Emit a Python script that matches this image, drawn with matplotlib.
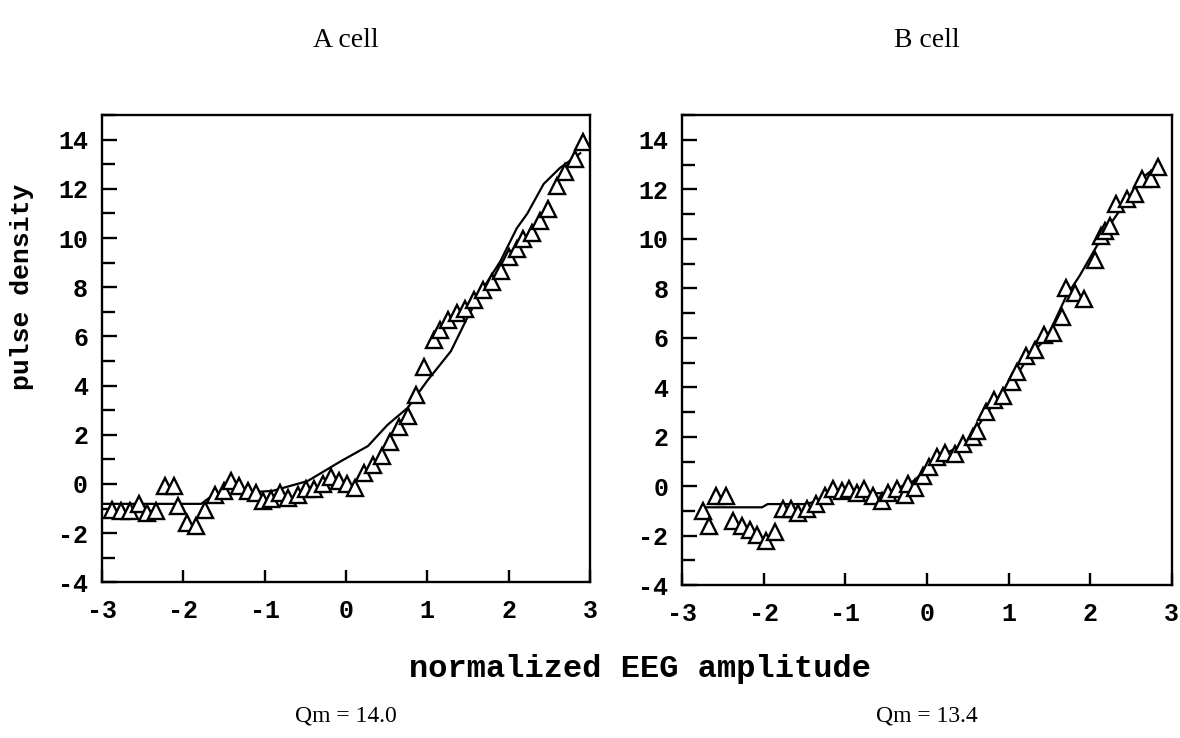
"""Pulse density vs normalized EEG amplitude for A and B cells"""

import numpy as np
import matplotlib
matplotlib.use('Agg')
import matplotlib.pyplot as plt
from matplotlib.ticker import MultipleLocator

# A cell: measured points (triangles)
a_x = [-2.88, -2.77, -2.66, -2.55, -2.45, -2.34, -2.23, -2.12, -2.06, -1.95,
       -1.84, -1.73, -1.61, -1.50, -1.41, -1.31, -1.20, -1.11, -1.02, -0.92,
       -0.81, -0.71, -0.59, -0.49, -0.39, -0.28, -0.18, -0.08, 0.01, 0.11,
       0.22, 0.33, 0.44, 0.54, 0.65, 0.76, 0.86, 0.96, 1.08, 1.16,
       1.26, 1.36, 1.46, 1.57, 1.69, 1.80, 1.90, 2.00, 2.10, 2.18,
       2.29, 2.39, 2.48, 2.59, 2.69, 2.81, 2.91]
a_y = [-1.06, -1.10, -1.10, -0.80, -1.20, -1.10, -0.10, -0.10, -0.90, -1.60,
       -1.70, -1.06, -0.45, -0.30, 0.10, -0.10, -0.30, -0.35, -0.70, -0.60,
       -0.35, -0.57, -0.45, -0.20, -0.20, 0.00, 0.30, 0.10, 0.00, -0.16,
       0.45, 0.77, 1.14, 1.70, 2.30, 2.76, 3.60, 4.75, 5.85, 6.25,
       6.65, 6.95, 7.10, 7.50, 7.90, 8.20, 8.65, 9.25, 9.55, 9.95,
       10.20, 10.70, 11.20, 12.10, 12.70, 13.20, 13.90]

# A cell: fitted curve
a_fit_x = [-3.0, -1.78, -1.65, -1.3, -0.9, -0.47, -0.06, 0.27, 0.51, 0.76,
           1.0, 1.29, 1.49, 1.69, 1.9, 2.1, 2.23, 2.43, 2.63, 2.88]
a_fit_y = [-0.81, -0.81, -0.49, -0.37, -0.28, 0.12, 0.93, 1.54, 2.4, 3.1,
           4.2, 5.4, 6.75, 7.97, 9.07, 10.4, 11.0, 12.2, 12.85, 13.45]

# B cell: measured points
b_x = [-2.74, -2.67, -2.58, -2.46, -2.37, -2.27, -2.17, -2.08, -1.97, -1.86,
       -1.76, -1.66, -1.58, -1.47, -1.36, -1.25, -1.15, -1.04, -0.96, -0.86,
       -0.77, -0.66, -0.55, -0.48, -0.37, -0.27, -0.23, -0.15, -0.05, 0.03,
       0.12, 0.22, 0.34, 0.44, 0.56, 0.62, 0.72, 0.82, 0.93, 1.04,
       1.11, 1.22, 1.33, 1.44, 1.55, 1.66, 1.71, 1.82, 1.93, 2.06,
       2.13, 2.18, 2.24, 2.32, 2.45, 2.55, 2.64, 2.75, 2.83]
b_y = [-1.00, -1.60, -0.40, -0.40, -1.40, -1.60, -1.75, -1.95, -2.20, -1.85,
       -0.93, -0.93, -1.10, -0.93, -0.72, -0.40, -0.12, -0.20, -0.12, -0.28,
       -0.12, -0.40, -0.60, -0.28, -0.12, -0.36, 0.08, -0.08, 0.40, 0.77,
       1.20, 1.33, 1.30, 1.70, 2.00, 2.25, 3.00, 3.50, 3.65, 4.20,
       4.60, 5.25, 5.50, 6.10, 6.20, 6.85, 8.00, 7.80, 7.55, 9.15,
       10.10, 10.30, 10.50, 11.40, 11.60, 11.80, 12.40, 12.40, 12.90]

# B cell: fitted curve
b_fit_x = [-2.75, -2.02, -1.95, -1.47, -1.15, -0.78, -0.5, -0.17, 0.07, 0.24,
           0.49, 0.65, 0.85, 1.05, 1.26, 1.47, 1.71, 1.87, 2.08, 2.28,
           2.48, 2.69, 2.85]
b_fit_y = [-0.85, -0.85, -0.72, -0.72, -0.36, -0.28, -0.28, 0.2, 0.9, 1.33,
           1.8, 2.55, 3.5, 4.23, 5.3, 6.0, 7.7, 8.5, 9.7, 10.75,
           11.7, 12.6, 13.0]

titles = ['A cell', 'B cell']
qm_labels = ['Qm = 14.0', 'Qm = 13.4']

plt.rcParams['axes.unicode_minus'] = False
mono = 'Liberation Mono'
serif = 'Liberation Serif'

fig = plt.figure(figsize=(11.8, 7.38), dpi=100)
ax1 = fig.add_axes([0.0864, 0.211, 0.4136, 0.633])
ax2 = fig.add_axes([0.578, 0.207, 0.415, 0.637])

panels = [(ax1, a_x, a_y, a_fit_x, a_fit_y), (ax2, b_x, b_y, b_fit_x, b_fit_y)]

for i, (ax, px, py, fx, fy) in enumerate(panels):
    ax.plot(fx, fy, color='black', lw=1.6, zorder=2)
    ax.plot(px, py, linestyle='none', marker='^', ms=11, mfc='white',
            mec='black', mew=1.7, zorder=3)
    ax.set_xlim(-3, 3)
    ax.set_ylim(-4, 15)
    ax.set_xticks(np.arange(-3, 4, 1))
    ax.set_yticks(np.arange(-4, 15, 2))
    ax.yaxis.set_minor_locator(MultipleLocator(1))
    ax.tick_params(axis='both', which='both', direction='in', top=False, right=False,
                   width=1.7, colors='black')
    ax.tick_params(axis='y', which='major', length=11, pad=10)
    ax.tick_params(axis='y', which='minor', length=9)
    ax.tick_params(axis='x', which='major', length=9, pad=12)
    for lab in ax.get_xticklabels() + ax.get_yticklabels():
        lab.set_fontfamily(mono)
        lab.set_fontweight('bold')
        lab.set_fontsize(18)
    for sp in ax.spines.values():
        sp.set_linewidth(1.7)
    cx = 0.5 * (ax.get_position().x0 + ax.get_position().x1)
    fig.text(cx, 0.945, titles[i], ha='center', va='center', fontsize=20, family=serif)
    fig.text(cx, 0.03, qm_labels[i], ha='center', va='center', fontsize=17, family=serif)

fig.text(0.019, 0.612, 'pulse density', rotation=90, ha='center', va='center',
         fontsize=19, family=mono, fontweight='bold')
fig.text(0.542, 0.094, 'normalized EEG amplitude', ha='center', va='center',
         fontsize=23, family=mono, fontweight='bold')

fig.savefig('out.png', dpi=100)
